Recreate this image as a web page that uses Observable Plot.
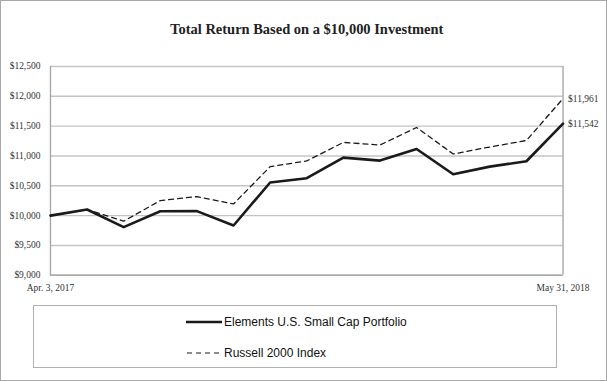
<!DOCTYPE html>
<html>
<head>
<meta charset="utf-8">
<script src="https://cdn.jsdelivr.net/npm/d3@7"></script>
<script src="https://cdn.jsdelivr.net/npm/@observablehq/plot@0.6"></script>
<style>
  html, body { margin: 0; padding: 0; background: #fff; }
  #wrap { position: relative; width: 607px; height: 381px; box-sizing: border-box; border: 1.5px solid #a8a8a8; overflow: hidden; }
  #chart { position: absolute; left: -1.5px; top: -1.5px; }
  #legend { position: absolute; left: 32px; top: 304px; width: 524px; height: 63px; box-sizing: border-box; border: 1.3px solid #b0b0b0; font-family: "Liberation Sans", Arial, sans-serif; font-size: 12px; color: #111; }
  .item { position: absolute; left: 152px; display: flex; align-items: center; }
  .item svg { display: block; }
</style>
</head>
<body>
<div id="wrap">
  <div id="chart"></div>
  <div id="legend">
    <div class="item" style="top:9px"><svg width="36" height="10"><line x1="0" y1="5" x2="36" y2="5" stroke="#1a1a1a" stroke-width="2.6"/></svg><span style="margin-left:2px">Elements U.S. Small Cap Portfolio</span></div>
    <div class="item" style="top:40px"><svg width="36" height="10"><line x1="1" y1="5" x2="36" y2="5" stroke="#1a1a1a" stroke-width="1.2" stroke-dasharray="5,4"/></svg><span style="margin-left:2px">Russell 2000 Index</span></div>
  </div>
</div>
<script>
const dates = ["Apr. 3, 2017","Apr. 30, 2017","May 31, 2017","Jun. 30, 2017","Jul. 31, 2017","Aug. 31, 2017","Sep. 30, 2017","Oct. 31, 2017","Nov. 30, 2017","Dec. 31, 2017","Jan. 31, 2018","Feb. 28, 2018","Mar. 31, 2018","Apr. 30, 2018","May 31, 2018"];
const portfolio = [10000, 10102, 9806, 10073, 10075, 9834, 10555, 10627, 10972, 10922, 11117, 10693, 10821, 10911, 11542];
const russell   = [10000, 10102, 9907, 10252, 10319, 10195, 10821, 10916, 11227, 11183, 11477, 11033, 11150, 11259, 11961];
const yTicks = [9000, 9500, 10000, 10500, 11000, 11500, 12000, 12500];
const xTickLabels = [dates[0], dates[dates.length - 1]];
const seriesNames = ["Elements U.S. Small Cap Portfolio", "Russell 2000 Index"];
const title = "Total Return Based on a $10,000 Investment";

const rows = [];
dates.forEach((d, i) => {
  rows.push({i, date: d, series: seriesNames[0], value: portfolio[i]});
  rows.push({i, date: d, series: seriesNames[1], value: russell[i]});
});
const last = dates.length - 1;
const endRows = rows.filter(r => r.i === last);
const fmt = v => "$" + d3.format(",")(v);
const serif = "'Liberation Serif', 'Times New Roman', serif";

const chart = Plot.plot({
  width: 607,
  height: 300,
  marginTop: 66,
  marginBottom: 25,
  marginLeft: 50,
  marginRight: 44,
  style: { fontFamily: serif, fontSize: "9.5px", color: "#333", background: "transparent" },
  x: { type: "linear", domain: [0, last], ticks: [0, last], tickFormat: i => dates[i], tickSize: 0, tickPadding: 9, label: null },
  y: { domain: [9000, 12500], ticks: yTicks, tickFormat: fmt, tickSize: 0, tickPadding: 10, label: null },
  marks: [
    Plot.ruleY(yTicks, { stroke: "#c4c4c4", strokeWidth: 1.4 }),
    Plot.ruleX([0, last], { stroke: "#a8a8a8", strokeWidth: 1.4 }),
    Plot.ruleY([9000], { stroke: "#a8a8a8", strokeWidth: 1.4 }),
    Plot.lineY(rows.filter(r => r.series === seriesNames[1]), { x: "i", y: "value", stroke: "#1a1a1a", strokeWidth: 1.3, strokeDasharray: "5,4" }),
    Plot.lineY(rows.filter(r => r.series === seriesNames[0]), { x: "i", y: "value", stroke: "#1a1a1a", strokeWidth: 2.6 }),
    Plot.text(endRows, { x: "i", y: "value", text: d => fmt(d.value), dx: 5, textAnchor: "start", fontSize: 9.5, fill: "#333" }),
    Plot.text([title], { frameAnchor: "top", dy: -43, fontFamily: serif, fontWeight: "bold", fontSize: 14.5, fill: "#222" })
  ]
});
document.getElementById("chart").appendChild(chart);
</script>
</body>
</html>
